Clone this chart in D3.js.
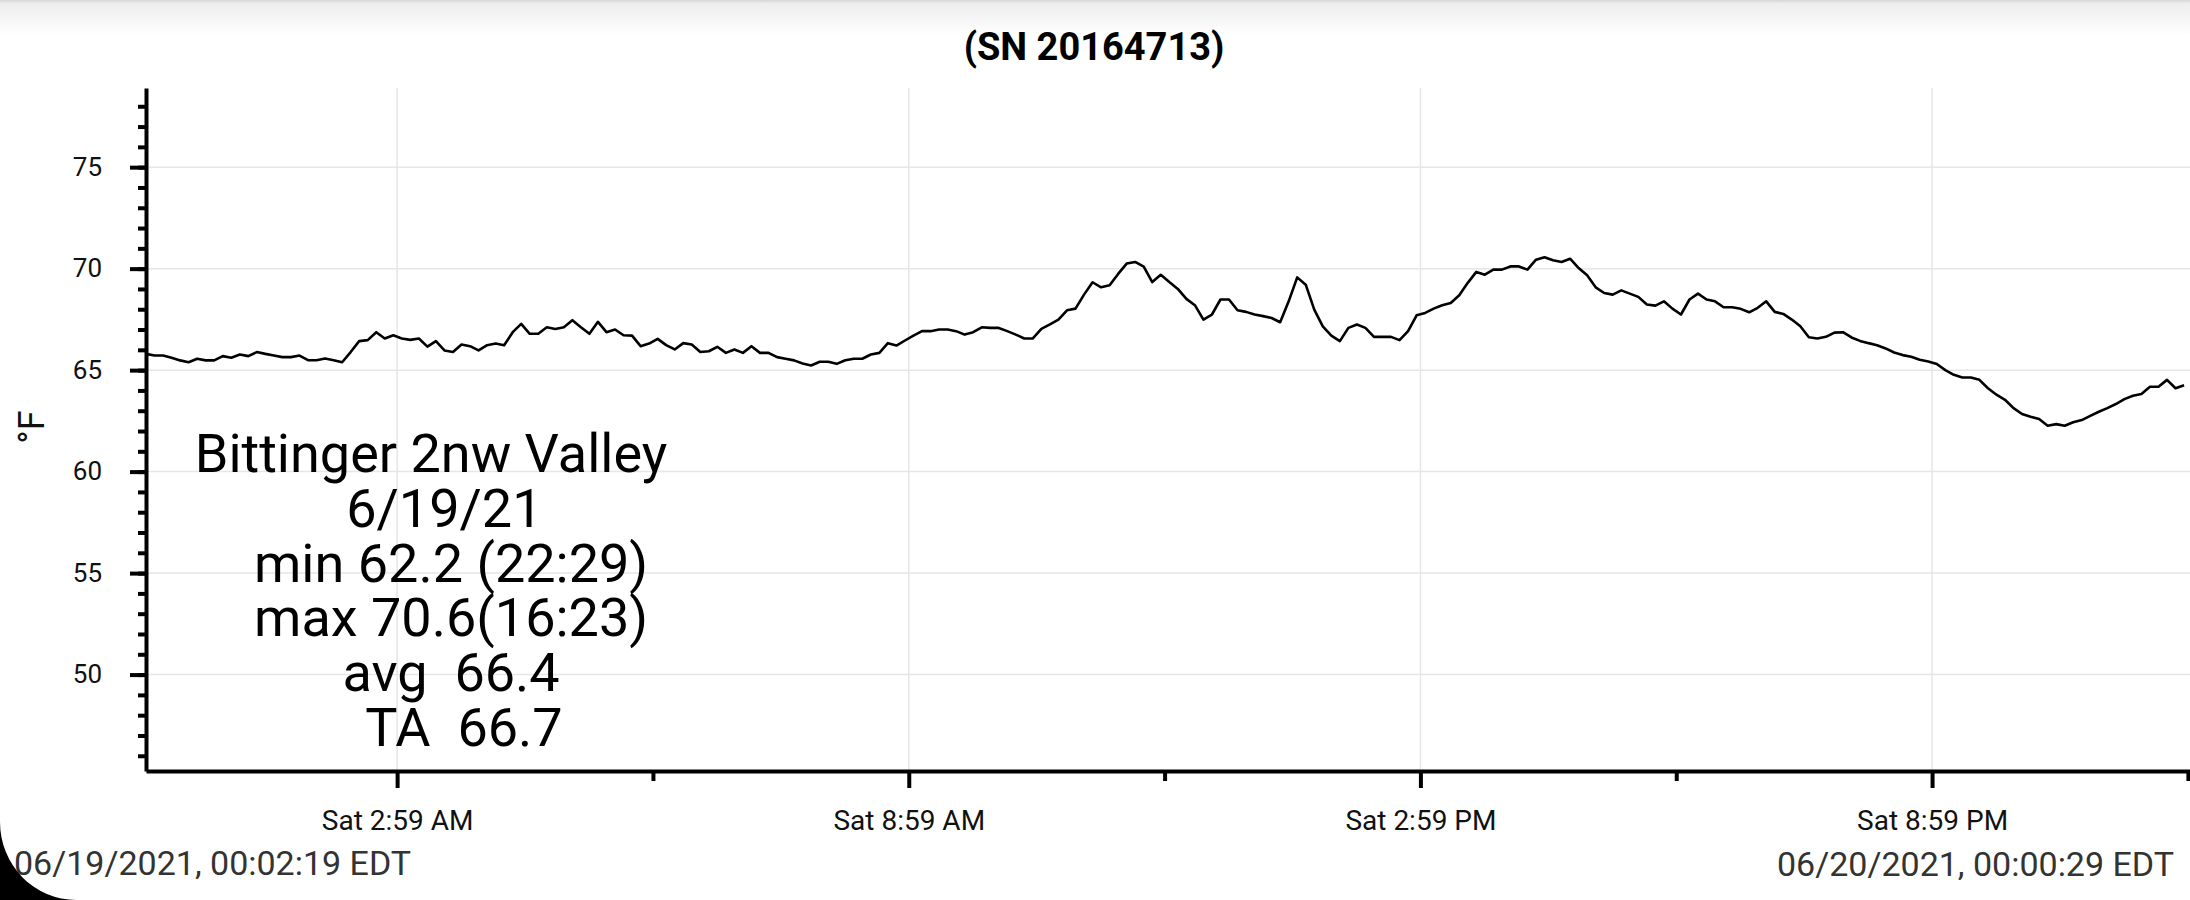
<!DOCTYPE html>
<html>
<head>
<meta charset="utf-8">
<script src="https://cdn.jsdelivr.net/npm/d3@7"></script>
<style>
  body { margin: 0; background: #fff; }
  svg { display: block; font-family: Roboto, sans-serif; }
  .note text { white-space: pre; }
</style>
</head>
<body>
<svg id="chart" width="2190" height="900"></svg>
<script>
// logger: one reading every 6 min from the start time
const startTime = new Date(2021, 5, 19, 0, 2, 19)
const endTime = new Date(2021, 5, 20, 0, 0, 29)
const stepMinutes = 6

// °F, 00:02 - 06:00
const tempsNight = [
  65.80, 65.72, 65.72, 65.61, 65.48, 65.39, 65.56, 65.48, 65.48, 65.69,
  65.61, 65.77, 65.69, 65.89, 65.80, 65.72, 65.64, 65.64, 65.72, 65.49,
  65.49, 65.57, 65.49, 65.39, 65.89, 66.43, 66.48, 66.87, 66.56, 66.72,
  66.56, 66.49, 66.56, 66.16, 66.43, 65.97, 65.89, 66.26, 66.18, 65.97,
  66.23, 66.31, 66.23, 66.87, 67.28, 66.79, 66.79, 67.11, 67.03, 67.11,
  67.46, 67.11, 66.79, 67.38, 66.87, 67.00, 66.72, 66.70, 66.18, 66.31
]
// 06:02 - 12:00
const tempsMorning = [
  66.54, 66.23, 66.02, 66.33, 66.26, 65.89, 65.93, 66.15, 65.85, 66.02,
  65.85, 66.18, 65.85, 65.85, 65.64, 65.56, 65.48, 65.33, 65.23, 65.41,
  65.41, 65.31, 65.49, 65.56, 65.56, 65.77, 65.85, 66.33, 66.21, 66.46,
  66.70, 66.92, 66.92, 67.00, 67.00, 66.92, 66.75, 66.87, 67.11, 67.08,
  67.08, 66.92, 66.75, 66.56, 66.56, 67.03, 67.25, 67.49, 67.95, 68.03,
  68.72, 69.33, 69.08, 69.18, 69.74, 70.25, 70.33, 70.10, 69.34, 69.70
]
// 12:02 - 18:00
const tempsAfternoon = [
  69.34, 69.00, 68.51, 68.20, 67.49, 67.74, 68.48, 68.48, 67.95, 67.87,
  67.74, 67.66, 67.57, 67.36, 68.39, 69.57, 69.21, 67.98, 67.16, 66.70,
  66.43, 67.08, 67.25, 67.08, 66.64, 66.64, 66.64, 66.48, 66.92, 67.70,
  67.82, 68.03, 68.20, 68.31, 68.69, 69.30, 69.84, 69.70, 69.95, 69.95,
  70.11, 70.11, 69.95, 70.44, 70.56, 70.41, 70.33, 70.49, 70.03, 69.67,
  69.08, 68.80, 68.72, 68.93, 68.77, 68.61, 68.23, 68.18, 68.39, 68.03
]
// 18:02 - 23:56
const tempsEvening = [
  67.74, 68.48, 68.77, 68.48, 68.39, 68.10, 68.10, 68.02, 67.85, 68.07,
  68.39, 67.87, 67.77, 67.49, 67.16, 66.62, 66.56, 66.64, 66.85, 66.87,
  66.61, 66.44, 66.33, 66.23, 66.07, 65.87, 65.74, 65.66, 65.51, 65.43,
  65.30, 65.00, 64.77, 64.64, 64.64, 64.52, 64.11, 63.79, 63.54, 63.13,
  62.84, 62.70, 62.59, 62.26, 62.34, 62.26, 62.43, 62.54, 62.75, 62.95,
  63.13, 63.33, 63.57, 63.74, 63.82, 64.18, 64.18, 64.52, 64.11, 64.26
]

const yMajorTicks = [50, 55, 60, 65, 70, 75]
const yMinorTicks = d3.range(46, 79)
const xMajorTicks = [[2, 59], [8, 59], [14, 59], [20, 59]]
const xMinorTicks = [[5, 59], [11, 59], [17, 59], [23, 59]]

const title = "(SN 20164713)"
const yLabel = "°F"
const noteLines = [
  "Bittinger 2nw Valley",
  "  6/19/21",
  "   min 62.2 (22:29)",
  "   max 70.6(16:23)",
  "   avg  66.4",
  "     TA  66.7"
]
const footLeft = "06/19/2021, 00:02:19 EDT"
const footRight = "06/20/2021, 00:00:29 EDT"

const data = [...tempsNight, ...tempsMorning, ...tempsAfternoon, ...tempsEvening]
  .map((v, i) => ({ date: d3.timeMinute.offset(startTime, i * stepMinutes), temp: v }))
const at = ([h, m]) => new Date(2021, 5, 19, h, m)

const svg = d3.select("#chart")
const plot = { left: 146, right: 2190, top: 88, bottom: 771 }

const scaleX = d3.scaleTime().domain([startTime, endTime]).range([plot.left, plot.right])
const scaleY = d3.scaleLinear().domain([45.25, 78.9]).range([plot.bottom, plot.top])

// top bar shadow
const grad = svg.append("defs").append("linearGradient")
  .attr("id", "shade").attr("x1", 0).attr("x2", 0).attr("y1", 0).attr("y2", 1)
grad.append("stop").attr("offset", 0).attr("stop-color", "#d6d6d6")
grad.append("stop").attr("offset", 0.1).attr("stop-color", "#eeeeee")
grad.append("stop").attr("offset", 1).attr("stop-color", "#ffffff")
svg.append("rect").attr("width", 2190).attr("height", 36).attr("fill", "url(#shade)")

// grid
svg.append("g").selectAll("line")
  .data(yMajorTicks)
  .enter().append("line")
  .attr("x1", plot.left).attr("x2", plot.right)
  .attr("y1", d => scaleY(d)).attr("y2", d => scaleY(d))
  .attr("stroke", "#e6e6e6").attr("stroke-width", 1.5)

svg.append("g").selectAll("line")
  .data(xMajorTicks)
  .enter().append("line")
  .attr("x1", d => scaleX(at(d))).attr("x2", d => scaleX(at(d)))
  .attr("y1", plot.top).attr("y2", plot.bottom)
  .attr("stroke", "#e6e6e6").attr("stroke-width", 1.5)

// temperature line
svg.append("path")
  .datum(data)
  .attr("fill", "none")
  .attr("stroke", "#000")
  .attr("stroke-width", 2.6)
  .attr("stroke-linejoin", "round")
  .attr("d", d3.line().x(d => scaleX(d.date)).y(d => scaleY(d.temp)))

// y axis
svg.append("g")
  .attr("transform", `translate(${plot.left},0)`)
  .call(d3.axisLeft(scaleY).tickValues(yMinorTicks).tickSize(8).tickSizeOuter(0).tickFormat(""))
  .call(g => g.selectAll("line").attr("stroke-width", 4))
  .call(g => g.select(".domain").remove())

svg.append("g")
  .attr("transform", `translate(${plot.left},0)`)
  .call(d3.axisLeft(scaleY).tickValues(yMajorTicks).tickSize(16).tickSizeOuter(0).tickPadding(28))
  .call(g => g.selectAll("line").attr("stroke-width", 4))
  .call(g => g.select(".domain").attr("stroke-width", 4))
  .call(g => g.selectAll("text").attr("font-size", 26).attr("fill", "#111").attr("font-family", "Roboto"))

// x axis
svg.append("g")
  .attr("transform", `translate(0,${plot.bottom})`)
  .call(d3.axisBottom(scaleX).tickValues(xMinorTicks.map(at)).tickSize(10).tickSizeOuter(0).tickFormat(""))
  .call(g => g.selectAll("line").attr("stroke-width", 4))
  .call(g => g.select(".domain").remove())

svg.append("g")
  .attr("transform", `translate(0,${plot.bottom})`)
  .call(d3.axisBottom(scaleX).tickValues(xMajorTicks.map(at)).tickSize(17).tickSizeOuter(0)
    .tickPadding(22).tickFormat(d3.timeFormat("%a %-I:%M %p")))
  .call(g => g.selectAll("line").attr("stroke-width", 4))
  .call(g => g.select(".domain").attr("stroke-width", 4))
  .call(g => g.selectAll("text").attr("font-size", 28).attr("fill", "#111").attr("font-family", "Roboto"))

// title + axis label
svg.append("text")
  .attr("x", 1094).attr("y", 60)
  .attr("text-anchor", "middle")
  .attr("font-size", 38).attr("font-weight", "bold")
  .text(title)

svg.append("text")
  .attr("transform", "translate(44,427) rotate(-90)")
  .attr("text-anchor", "middle")
  .attr("font-size", 36)
  .attr("fill", "#111")
  .text(yLabel)

// summary note
svg.append("g").attr("class", "note")
  .selectAll("text")
  .data(noteLines)
  .enter().append("text")
  .attr("x", 431)
  .attr("y", (d, i) => 472 + i * 54.8)
  .attr("text-anchor", "middle")
  .attr("font-size", 54)
  .attr("fill", "#000")
  .text(d => d)

// footer timestamps
svg.append("text")
  .attr("x", 14).attr("y", 875)
  .attr("font-size", 34).attr("fill", "#333")
  .text(footLeft)

svg.append("text")
  .attr("x", 2174).attr("y", 876)
  .attr("text-anchor", "end")
  .attr("font-size", 34).attr("fill", "#333")
  .text(footRight)

// rounded screen corner
svg.append("path")
  .attr("d", "M0,822 A76,78 0 0 0 76,900 L0,900 Z")
  .attr("fill", "#000")
</script>
</body>
</html>
